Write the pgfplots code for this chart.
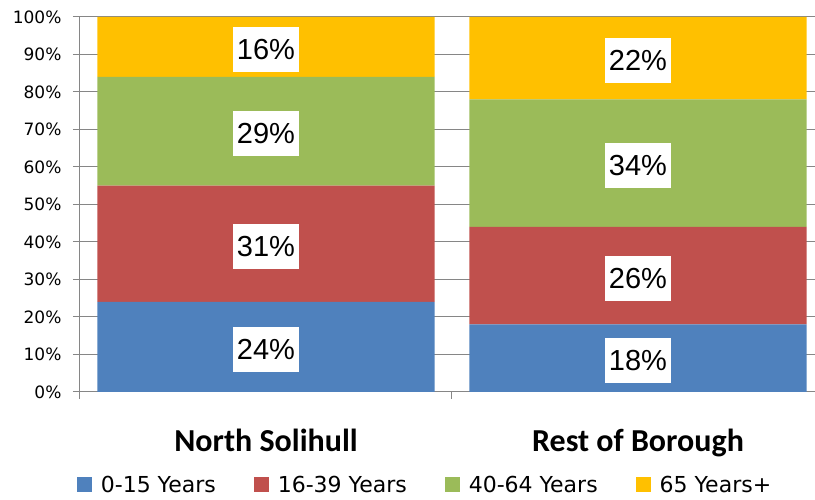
\documentclass[border=0pt]{standalone}
\usepackage{fontspec}
\usepackage{pgfplots}
\pgfplotsset{compat=1.18}
\setmainfont{DejaVu Sans}
\newfontfamily\labfont{Liberation Sans}
\newfontfamily\catfont{Carlito}
\definecolor{cblue}{HTML}{4F81BD}
\definecolor{cred}{HTML}{C0504D}
\definecolor{cgreen}{HTML}{9BBB59}
\definecolor{cyellow}{HTML}{FFC000}
\definecolor{axgray}{HTML}{868686}
\pgfplotsset{common/.style={
  width=744pt, height=375pt, scale only axis,
  xmin=-0.5, xmax=1.5, ymin=0, ymax=100,
  enlargelimits=false,
}}
\pgfplotstableread{
x y
0 24
1 18
}\tA
\pgfplotstableread{
x y
0 31
1 26
}\tB
\pgfplotstableread{
x y
0 29
1 34
}\tC
\pgfplotstableread{
x y
0 16
1 22
}\tD
\pgfplotstableread{
x y v
0 12   24
0 39.5 31
0 69.5 29
0 92   16
1 9    18
1 31   26
1 61   34
1 89   22
}\tLab
\begin{document}
\begin{tikzpicture}
\useasboundingbox (-80pt,-108pt) rectangle (735pt,392pt);
\begin{axis}[common,
  ybar stacked, bar width=0.906,
  axis lines*=left,
  axis line style={axgray, line width=1pt},
  ytick={0,10,...,100},
  yticklabel={\pgfmathprintnumber{\tick}\%},
  /pgf/number format/assume math mode=true,
  yticklabel style={font=\fontsize{17}{17}\selectfont, text=black, xshift=-8pt},
  ymajorgrids, grid style={axgray, line width=1pt},
  tick style={axgray, line width=1pt},
  tick align=outside, major tick length=7pt,
  xtick={-0.5,0.5,1.5}, x tick label as interval,
  xticklabels={North Solihull, Rest of Borough},
  xticklabel style={font=\catfont\bfseries\fontsize{32}{32}\selectfont, text=black, anchor=base, yshift=-53pt},
  legend columns=4,
  legend style={at={(0.4624,-0.248)}, anchor=center, draw=none, fill=none,
    font=\fontsize{22}{22}\selectfont,
    nodes={inner sep=0pt},
    /tikz/every odd column/.append style={column sep=9pt},
    /tikz/every even column/.append style={column sep=38pt}},
  legend image code/.code={\path[#1, draw=none] (0pt,-7.5pt) rectangle (15pt,7.5pt);},
]
\addplot[fill=cblue, draw=none] table[x=x,y=y] {\tA};
\addplot[fill=cred, draw=none] table[x=x,y=y] {\tB};
\addplot[fill=cgreen, draw=none] table[x=x,y=y] {\tC};
\addplot[fill=cyellow, draw=none] table[x=x,y=y] {\tD};
\legend{0-15 Years, 16-39 Years, 40-64 Years, 65 Years+}
\end{axis}
\begin{axis}[common, hide axis]
\addplot[draw=none, nodes near coords={\pgfmathprintnumber{\pgfplotspointmeta}\%},
  point meta=explicit,
  nodes near coords style={anchor=center, fill=white, text=black, inner xsep=4pt, inner ysep=0pt,
    minimum height=45pt, yshift=-2.5pt, font=\labfont\fontsize{29}{29}\selectfont,
    /pgf/number format/assume math mode=true}]
  table[x=x,y=y,meta=v] {\tLab};
\end{axis}
\end{tikzpicture}
\end{document}
